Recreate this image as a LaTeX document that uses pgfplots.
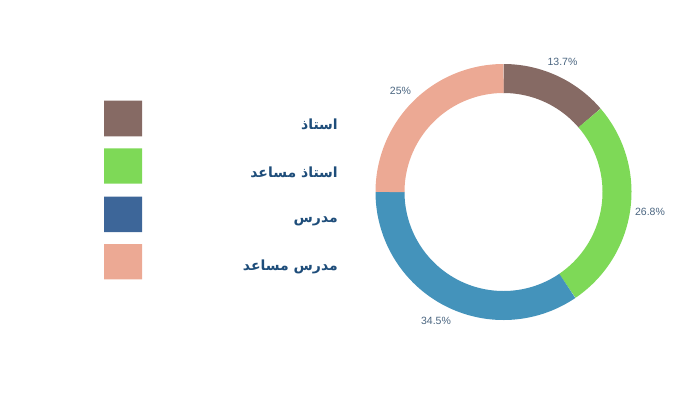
\documentclass[border=0pt]{standalone}
\usepackage{pgfplots}
\pgfplotsset{compat=1.18}
\usepackage{pgfplotstable}
\usepackage{fontspec}
\setmainfont{Liberation Sans}
\newfontfamily\arabicfont[Script=Arabic]{DejaVu Sans}
\TeXXeTstate=1

\definecolor{cBrown}{HTML}{866A64}
\definecolor{cGreen}{HTML}{7ED957}
\definecolor{cBlue}{HTML}{4493BB}
\definecolor{cBlueLeg}{HTML}{3D6699}
\definecolor{cSalmon}{HTML}{ECA994}
\definecolor{cText}{HTML}{1E4D7A}
\definecolor{cPct}{HTML}{4A6580}

\pgfplotstableread{
pct
13.7
26.8
34.5
25
}\slices

\begin{document}
\begin{tikzpicture}
\pgfplotstablegetelem{0}{pct}\of\slices \let\pA\pgfplotsretval
\pgfplotstablegetelem{1}{pct}\of\slices \let\pB\pgfplotsretval
\pgfplotstablegetelem{2}{pct}\of\slices \let\pC\pgfplotsretval
\pgfplotstablegetelem{3}{pct}\of\slices \let\pD\pgfplotsretval
\pgfmathsetmacro\aZ{90}
\pgfmathsetmacro\aA{\aZ-3.6*\pA}
\pgfmathsetmacro\aB{\aA-3.6*\pB}
\pgfmathsetmacro\aC{\aB-3.6*\pC}
\pgfmathsetmacro\aD{\aC-3.6*\pD}
\begin{axis}[
  width=700bp, height=393bp, scale only axis,
  xmin=0, xmax=700, ymin=0, ymax=393, y dir=reverse,
  hide axis, clip=false, no markers,
]
\path (axis cs:0,0) rectangle (axis cs:700,393);
% donut slices
\addplot[draw=cBrown, line width=29bp, line cap=butt, domain=\aA:\aZ, samples=60, variable=\t] ({503.5+113.5*cos(\t)},{192-113.5*sin(\t)});
\addplot[draw=cGreen, line width=29bp, line cap=butt, domain=\aB:\aA, samples=80, variable=\t] ({503.5+113.5*cos(\t)},{192-113.5*sin(\t)});
\addplot[draw=cBlue, line width=29bp, line cap=butt, domain=\aC:\aB, samples=100, variable=\t] ({503.5+113.5*cos(\t)},{192-113.5*sin(\t)});
\addplot[draw=cSalmon, line width=29bp, line cap=butt, domain=\aD:\aC, samples=80, variable=\t] ({503.5+113.5*cos(\t)},{192-113.5*sin(\t)});
% legend squares
\addplot[fill=cBrown, draw=none] coordinates {(104,100.5) (142,100.5) (142,136.3) (104,136.3) (104,100.5)};
\addplot[fill=cGreen, draw=none] coordinates {(104,148.3) (142,148.3) (142,183.7) (104,183.7) (104,148.3)};
\addplot[fill=cBlueLeg, draw=none] coordinates {(104,196.7) (142,196.7) (142,232) (104,232) (104,196.7)};
\addplot[fill=cSalmon, draw=none] coordinates {(104,244) (142,244) (142,279.3) (104,279.3) (104,244)};
% legend text
\node[anchor=east, text=cText, font=\arabicfont\bfseries\fontsize{14bp}{16bp}\selectfont, inner sep=0pt] at (axis cs:338,124.3) {\beginR استاذ\endR};
\node[anchor=east, text=cText, font=\arabicfont\bfseries\fontsize{14bp}{16bp}\selectfont, inner sep=0pt] at (axis cs:338,172.7) {\beginR استاذ مساعد\endR};
\node[anchor=east, text=cText, font=\arabicfont\bfseries\fontsize{14bp}{16bp}\selectfont, inner sep=0pt] at (axis cs:338,221) {\beginR مدرس\endR};
\node[anchor=east, text=cText, font=\arabicfont\bfseries\fontsize{14bp}{16bp}\selectfont, inner sep=0pt] at (axis cs:338,266.7) {\beginR مدرس مساعد\endR};
% percentage labels
\node[anchor=base, text=cPct, font=\fontsize{10.5bp}{12bp}\selectfont, inner sep=0pt] at (axis cs:562.5,65.3) {\pA\%};
\node[anchor=base, text=cPct, font=\fontsize{10.5bp}{12bp}\selectfont, inner sep=0pt] at (axis cs:650,215) {\pB\%};
\node[anchor=base, text=cPct, font=\fontsize{10.5bp}{12bp}\selectfont, inner sep=0pt] at (axis cs:436,324) {\pC\%};
\node[anchor=base, text=cPct, font=\fontsize{10.5bp}{12bp}\selectfont, inner sep=0pt] at (axis cs:400.5,94) {\pD\%};
\end{axis}
\end{tikzpicture}
\end{document}
